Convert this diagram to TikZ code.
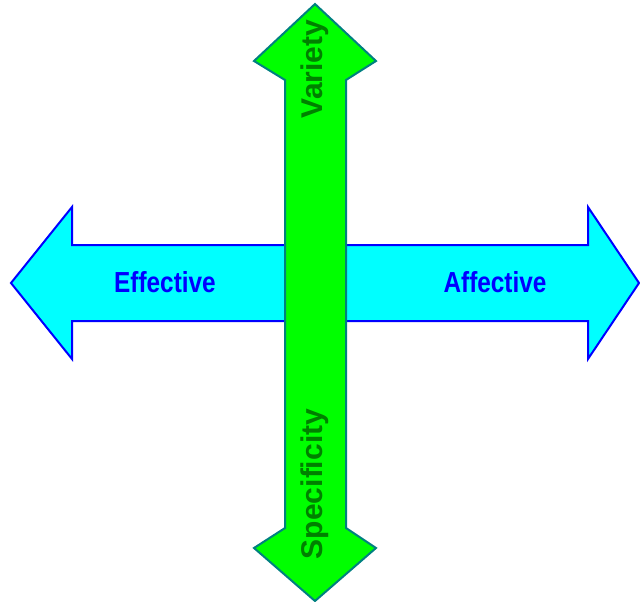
\documentclass[tikz,border=0pt]{standalone}
\usepackage{fontspec}
\setmainfont{Liberation Sans}
\definecolor{shaftgreen}{RGB}{0,255,0}
\definecolor{edgeteal}{RGB}{0,128,128}
\definecolor{labelgreen}{RGB}{0,128,0}
\definecolor{shaftcyan}{RGB}{0,255,255}
\definecolor{edgeblue}{RGB}{0,0,255}
\tikzset{
  hbar/.style={fill=shaftcyan, draw=edgeblue, line width=2pt, line join=miter},
  vbar/.style={fill=shaftgreen, draw=edgeteal, line width=2pt, line join=miter},
  hlabel/.style={anchor=base, inner sep=0pt, text=edgeblue,
    font=\fontsize{29}{29}\selectfont\bfseries, xscale=0.84},
  vlabel/.style={anchor=base, inner sep=0pt, rotate=90, text=labelgreen,
    font=\fontsize{30}{30}\selectfont\bfseries},
}
\begin{document}
\begin{tikzpicture}[x=1pt, y=-1pt]
\useasboundingbox (0,0) rectangle (640,602);
% horizontal double arrow
\draw[hbar] (11,283) -- (72,207) -- (72,245) -- (588,245) -- (588,207)
  -- (639,283) -- (588,359) -- (588,321) -- (72,321) -- (72,359) -- cycle;
% vertical double arrow, drawn on top
\draw[vbar] (315,4) -- (376,61) -- (346,80) -- (346,528) -- (376,548)
  -- (315,601) -- (254,548) -- (285,528) -- (285,80) -- (254,61) -- cycle;
% labels
\node[hlabel] (effective) at (165,292) {Effective};
\node[hlabel] (affective) at (495,292) {Affective};
\node[vlabel] (variety) at (322,69) {Variety};
\node[vlabel] (specificity) at (322,484) {Specificity};
\end{tikzpicture}
\end{document}
